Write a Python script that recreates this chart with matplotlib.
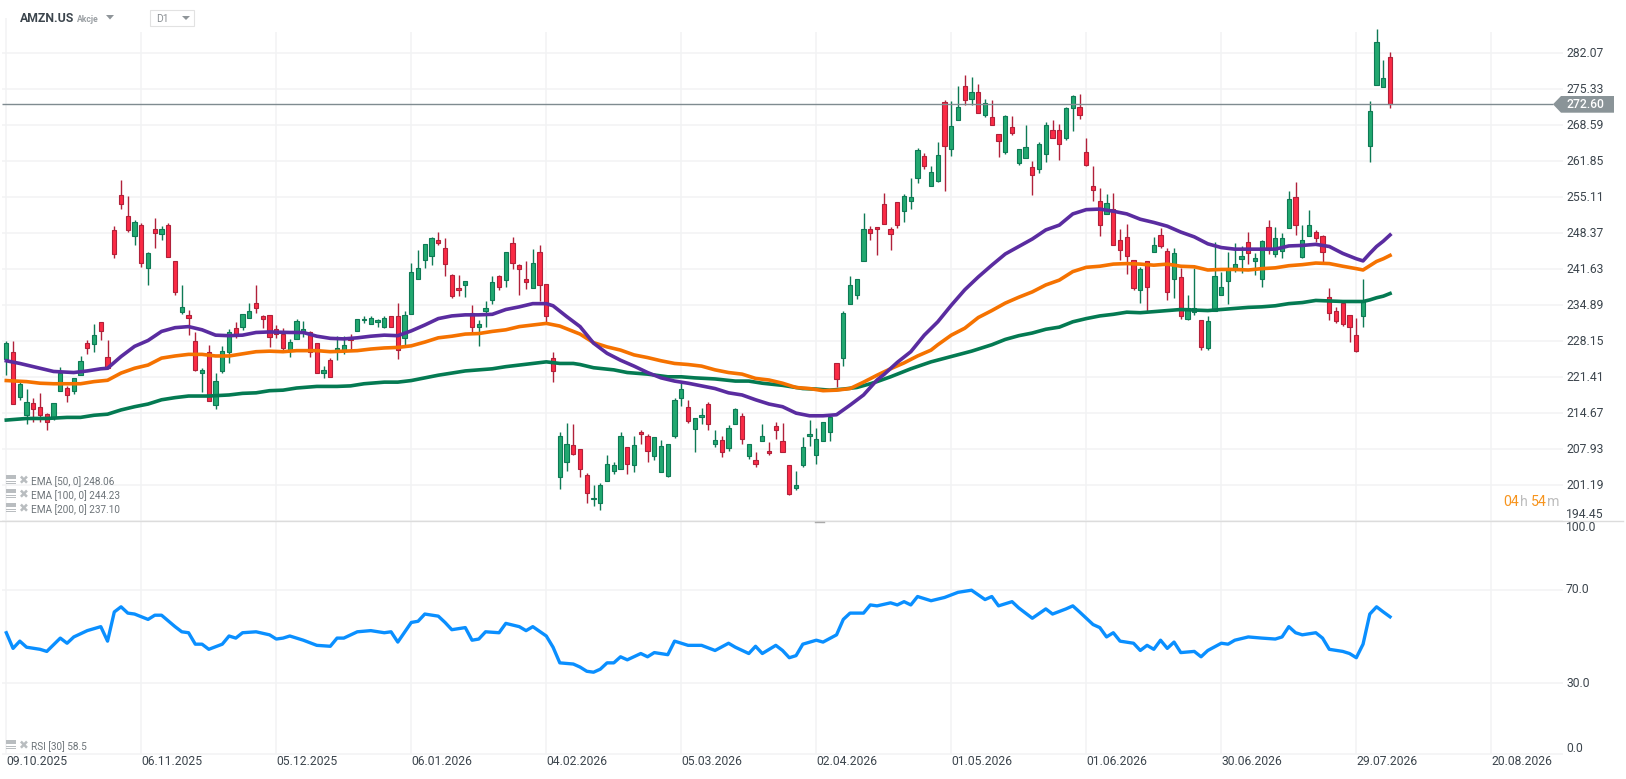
import numpy as np
import matplotlib
matplotlib.use('Agg')
import matplotlib.pyplot as plt
from matplotlib.patches import Polygon, Rectangle

plt.rcParams['font.family'] = ['Roboto', 'DejaVu Sans']

# swiece dzienne AMZN.US
opens = [224.9,226.1,217.7,214.3,216.6,215.8,214.5,213.7,218.8,219.4,
         218.8,221.8,227.8,227.6,231.7,225.3,248.9,255.5,251.6,247.8,
         249.9,241.8,249.1,248.2,249.9,243.1,233.6,233.0,228.2,222.3,
         226.1,216.2,222.5,226.1,230.6,230.9,232.5,235.4,232.8,233.0,
         230.4,229.5,226.6,228.5,229.8,229.8,227.8,222.3,224.6,226.3,
         226.6,228.5,230.0,232.1,231.3,231.7,230.9,232.8,232.8,228.7,
         233.2,239.9,243.3,244.2,247.2,245.7,240.5,238.1,238.6,233.4,
         230.8,233.8,235.8,240.3,239.6,246.5,242.4,239.8,238.1,244.8,
         238.8,225.0,202.7,205.5,208.7,207.9,203.2,198.6,197.8,201.9,
         203.8,204.2,208.3,204.9,211.1,210.5,206.6,203.6,202.9,210.4,
         217.5,215.8,211.7,213.9,216.5,209.0,209.6,208.1,212.6,214.1,
         206.6,205.9,209.4,207.7,212.2,209.4,204.9,200.6,204.9,210.4,
         206.8,209.4,211.1,224.0,225.0,235.1,236.9,243.1,249.1,249.5,
         253.8,249.1,254.2,252.5,254.5,258.7,262.8,257.2,258.1,272.9,
         264.1,269.5,275.9,273.6,274.9,270.5,270.1,266.9,263.5,268.2,
         261.5,262.4,260.7,260.5,263.2,267.7,267.7,266.2,271.8,272.1,
         263.5,257.2,254.5,251.9,252.9,247.2,247.6,243.3,237.7,243.1,
         244.8,248.0,245.0,239.8,240.1,232.3,233.6,232.1,226.8,233.9,
         236.9,239.4,241.6,243.5,246.7,243.1,239.8,249.5,244.4,245.0,
         249.3,255.1,244.0,247.8,248.7,247.8,236.4,233.8,235.4,233.0,
         229.3,232.8,264.8,276.1,275.7,281.3]
highs = [228.2,228.2,220.5,219.2,217.5,218.4,214.7,216.6,223.3,219.7,
         221.2,225.4,228.4,231.4,231.7,228.4,249.7,258.3,255.3,250.8,
         250.3,244.8,251.2,249.7,250.3,243.1,238.6,234.1,229.8,223.1,
         227.4,222.2,227.2,230.4,231.7,233.2,235.4,238.6,233.0,233.0,
         231.2,230.6,228.5,232.3,231.9,230.0,227.8,223.5,225.0,229.1,
         229.1,229.5,232.3,232.8,232.8,232.4,232.8,232.8,235.3,233.9,
         242.9,245.2,246.3,247.6,248.7,247.4,240.7,240.5,239.4,234.9,
         232.1,235.6,240.3,240.5,244.8,247.6,242.6,243.1,245.4,246.1,
         238.8,226.1,211.1,212.8,212.6,207.9,203.4,201.2,201.6,206.8,
         205.5,211.1,208.3,210.4,211.5,210.7,210.2,209.6,209.0,217.5,
         220.5,217.1,213.7,215.6,216.7,211.5,210.4,212.4,215.6,214.7,
         209.0,207.5,212.6,209.2,213.0,212.8,204.9,203.8,210.2,213.5,
         212.0,213.0,213.9,224.0,233.8,240.3,239.9,252.1,249.7,249.5,
         255.9,249.5,254.2,255.7,258.7,264.3,263.4,260.9,265.4,273.3,
         273.1,275.9,278.1,277.6,276.3,273.6,273.3,266.9,270.5,270.3,
         264.1,268.6,261.9,265.4,269.2,269.5,268.8,272.1,274.2,274.4,
         266.2,260.9,256.8,255.7,255.9,249.1,250.2,243.3,242.0,243.1,
         247.6,249.3,245.6,245.6,241.8,236.8,241.8,232.1,232.8,246.7,
         241.2,244.8,246.5,245.9,248.7,244.6,247.2,250.8,249.5,248.4,
         256.2,257.9,250.0,252.7,248.9,248.0,238.1,234.5,235.4,233.0,
         232.6,239.8,273.1,286.7,280.8,282.4]
lows = [221.8,216.4,217.2,212.7,213.0,213.0,211.6,213.4,218.8,216.7,
        218.2,221.8,225.7,226.2,228.3,222.9,243.8,253.0,248.7,246.2,
        242.1,238.6,245.7,247.2,243.9,236.9,233.2,229.4,222.5,218.6,
        216.9,215.4,222.3,224.0,228.8,230.3,232.5,233.5,230.7,227.0,
        228.7,226.5,225.3,228.5,228.9,225.3,222.2,221.2,221.4,224.6,
        225.7,226.6,230.0,231.5,231.3,230.9,230.6,230.8,224.8,227.5,
        233.2,239.9,241.8,242.4,246.1,240.3,236.3,236.7,236.5,229.6,
        227.2,230.9,235.1,237.7,238.3,241.6,236.8,237.9,238.1,235.6,
        231.7,220.5,200.4,203.8,206.8,202.7,197.8,197.4,196.5,201.9,
        203.3,204.2,203.3,203.6,209.0,205.5,205.9,203.6,202.7,210.0,
        216.0,212.8,207.4,212.6,211.5,208.3,206.4,207.7,212.6,209.0,
        206.2,204.6,209.4,206.8,209.8,207.4,199.3,200.3,204.6,208.5,
        205.1,209.4,209.4,219.5,223.6,235.1,236.0,243.1,247.1,244.3,
        250.2,245.3,249.3,250.4,253.0,257.7,260.5,257.2,257.9,256.2,
        262.8,269.5,272.3,272.3,270.8,270.1,268.6,262.6,263.2,266.7,
        261.1,262.4,255.5,259.6,261.7,266.3,262.0,265.8,267.5,269.7,
        260.9,254.5,247.8,251.9,246.1,243.4,240.7,237.7,235.4,233.9,
        244.8,245.6,235.8,236.2,232.3,232.1,233.0,226.6,226.6,233.9,
        236.9,235.1,241.2,240.9,242.7,240.5,238.3,244.4,244.0,243.7,
        249.3,248.0,243.7,247.8,246.7,242.6,232.1,231.5,231.1,228.1,
        226.2,230.9,261.8,276.1,275.7,271.9]
closes = [227.8,216.4,220.1,216.7,215.4,214.3,213.0,216.6,222.2,218.0,
          221.2,224.4,226.8,229.3,230.0,223.1,244.4,253.8,248.9,250.4,
          242.8,244.6,248.4,249.1,243.9,237.3,234.5,232.6,222.7,222.7,
          216.9,220.7,226.3,229.8,229.3,233.2,233.8,234.3,232.3,228.9,
          229.5,226.8,228.0,231.9,230.4,226.1,222.3,222.7,221.4,226.8,
          227.4,228.3,232.3,232.4,232.6,232.1,232.6,230.8,226.5,233.0,
          241.2,241.8,246.3,247.4,246.5,242.6,236.6,237.7,239.4,230.8,
          231.3,234.3,239.2,238.4,244.8,242.9,241.6,239.2,242.9,238.6,
          232.8,222.5,210.4,209.0,207.0,204.2,199.7,198.9,201.2,205.1,
          204.9,210.4,205.1,208.7,210.7,207.7,210.2,208.5,208.9,217.1,
          219.2,213.2,213.7,214.3,212.6,209.6,207.5,211.9,215.4,209.8,
          209.0,205.1,210.4,207.2,211.5,207.5,199.5,201.2,208.3,210.7,
          209.8,213.0,213.9,221.0,233.4,238.6,239.9,249.1,248.4,249.1,
          250.2,248.2,249.9,255.3,255.1,263.9,260.9,259.8,263.0,264.8,
          268.4,272.0,273.3,274.9,270.8,272.7,268.6,265.6,270.3,267.1,
          264.1,264.6,259.2,265.0,268.6,266.3,265.0,271.8,274.0,270.5,
          261.1,256.4,250.0,254.0,246.1,245.2,244.2,238.1,241.6,238.4,
          246.1,245.9,237.3,244.6,232.8,234.3,234.3,227.0,231.9,240.3,
          238.4,241.8,242.6,244.2,244.6,243.7,246.9,245.2,247.4,247.4,
          254.7,249.9,247.2,250.0,247.4,244.8,233.4,231.9,231.3,230.8,
          226.4,235.6,271.2,284.1,277.4,272.6]

# srednie EMA, odczytane co kilka sesji
ema50_idx = [0,2,5,7,10,12,14,15,17,19,21,23,25,27,29,31,33,35,37,39,42,44,46,48,50,52,54,56,58,60,
             62,64,66,68,70,72,74,76,78,80,81,83,85,87,89,91,93,95,97,99,101,103,105,107,109,111,113,
             115,117,119,121,123,125,127,129,130,132,134,136,138,140,142,144,146,148,150,152,154,156,
             158,160,162,164,166,168,170,172,174,176,178,180,182,184,186,188,190,192,194,196,198,200,
             201,202,203,204,205]
ema50 = [224.5,224.0,223.1,222.5,222.3,222.6,223.0,223.1,225.3,227.2,228.3,230.0,230.7,230.9,230.3,229.3,
         229.2,229.3,229.8,229.9,229.8,229.8,229.1,228.7,228.6,228.8,229.1,229.3,229.2,230.1,
         231.2,232.4,232.9,233.1,233.1,233.2,234.1,234.6,235.2,235.2,234.8,232.8,230.9,227.8,225.9,224.6,
         223.5,222.3,221.3,220.7,220.3,219.8,219.3,218.5,218.1,217.2,216.4,215.9,214.7,214.2,214.2,214.4,
         216.2,218.1,220.9,221.9,224.2,226.2,229.3,231.8,234.9,237.8,240.2,242.4,244.5,245.9,247.3,249.0,
         249.9,252.0,252.8,252.9,252.5,252.0,251.0,250.4,249.7,248.6,247.7,246.4,245.7,245.4,245.4,245.4,
         245.4,246.0,246.1,246.3,245.9,244.6,243.6,243.2,244.6,245.9,246.9,248.06]
ema100_idx = [0,3,5,7,11,13,15,17,19,21,23,25,27,29,31,33,35,37,39,41,43,46,48,50,52,54,56,58,60,62,64,66,
              68,70,72,74,76,78,80,82,84,85,87,89,91,93,95,97,99,101,103,105,107,109,111,113,115,117,119,
              121,123,125,127,129,131,133,135,137,138,140,142,144,146,148,150,152,154,156,158,160,162,
              164,166,168,170,172,174,176,178,180,182,184,186,188,190,192,194,196,198,200,201,202,203,
              204,205]
ema100 = [220.8,220.6,220.3,220.2,220.2,220.6,220.85,222.2,223.1,223.7,225.0,225.4,225.7,225.7,225.4,225.4,
          225.8,226.2,226.3,226.2,226.4,226.4,226.2,226.3,226.4,226.7,226.9,227.0,227.3,228.0,228.8,229.1,
          229.5,229.6,230.0,230.3,230.9,231.2,231.5,231.0,230.0,229.5,227.9,227.1,226.5,225.6,225.1,224.5,
          224.0,223.8,223.5,222.8,222.3,222.0,221.2,220.9,220.3,219.5,219.3,218.9,219.0,219.3,220.5,221.8,
          223.0,224.1,225.4,226.5,227.5,229.3,230.6,232.6,233.9,235.3,236.4,237.4,238.7,239.6,241.2,242.0,
          242.2,242.6,242.7,242.6,242.4,242.6,242.2,242.1,241.5,241.6,241.6,241.5,241.75,241.9,242.3,242.5,
          242.8,242.7,242.2,241.75,241.5,242.3,243.1,243.6,244.23]
ema200_idx = [0,3,6,9,11,13,15,17,19,21,23,25,27,30,33,35,37,39,41,43,46,49,51,53,56,58,60,62,64,66,68,70,
              72,74,76,78,80,82,84,85,87,90,92,95,98,100,102,105,108,110,112,115,118,120,122,124,126,128,
              129,131,134,137,140,143,146,148,150,152,154,156,158,160,162,164,166,168,170,172,174,176,
              178,180,182,184,186,188,190,192,194,196,198,200,201,202,203,204,205]
ema200 = [213.4,213.7,213.7,213.9,213.9,214.3,214.5,215.3,215.9,216.4,217.2,217.6,217.9,217.9,218.1,218.4,
          218.5,218.9,219.0,219.4,219.7,219.7,219.8,220.2,220.5,220.5,220.8,221.3,221.8,222.2,222.6,222.8,
          223.0,223.4,223.7,224.0,224.3,224.0,224.0,223.8,223.2,222.8,222.3,222.0,221.5,221.5,221.3,221.1,
          220.7,220.7,220.3,219.9,219.3,219.2,219.0,219.2,219.5,220.2,220.6,221.5,223.0,224.3,225.3,226.3,
          227.5,228.5,229.2,229.7,230.4,230.8,231.8,232.4,232.9,233.2,233.6,233.5,233.7,233.9,234.1,234.0,
          233.9,234.1,234.3,234.5,234.6,234.8,235.2,235.4,235.8,235.7,235.6,235.6,235.6,235.9,236.3,236.6,
          237.10]

# RSI [30]
rsi_idx = [0,1,2,3,5,6,8,9,10,12,14,15,16,17,18,19,21,22,23,25,26,27,28,29,30,32,33,34,35,37,39,40,41,42,44,
           46,48,49,50,52,54,56,57,58,60,61,62,64,65,66,68,69,70,71,73,74,76,77,78,80,81,82,84,85,86,87,88,
           89,90,91,92,94,95,96,98,99,101,103,105,107,108,110,111,112,114,115,116,117,118,120,121,123,124,
           125,127,128,129,131,132,133,134,135,137,139,141,143,145,146,147,149,150,152,154,155,157,158,159,
           161,162,163,164,165,167,168,169,170,171,172,173,174,176,177,178,180,181,182,184,186,188,189,190,
           191,192,194,195,196,198,199,200,201,202,203,204,205]
rsi = [51.7,45.0,48.1,45.5,44.6,43.7,49.4,47.2,49.9,52.6,54.3,48.1,60.6,62.8,60.1,59.7,57.4,59.2,59.2,54.3,
       52.1,51.7,46.8,46.8,44.6,46.8,50.3,49.4,51.7,52.1,50.8,49.0,49.4,50.3,48.5,46.3,45.9,49.4,49.4,52.1,
       52.6,51.7,52.1,47.7,56.1,56.6,59.7,58.8,56.1,53.0,53.9,48.5,49.0,52.1,51.7,55.7,54.3,52.6,54.3,50.3,
       45.5,38.8,38.3,37.0,35.2,34.8,36.1,38.8,38.8,41.4,40.1,42.8,41.4,43.2,42.3,48.1,46.3,46.3,44.1,47.2,
       45.5,42.8,45.9,42.8,46.3,44.1,41.0,41.9,46.8,48.5,47.7,50.8,57.4,60.1,60.1,63.6,63.2,64.5,63.6,65.0,
       63.6,67.2,65.4,66.8,69.0,69.9,65.9,67.2,63.2,65.0,62.3,57.9,61.9,59.7,61.9,63.2,60.6,55.2,53.9,49.9,
       51.7,48.1,47.2,44.1,46.3,44.6,48.5,45.0,47.7,43.2,43.7,41.4,44.1,47.2,46.8,48.5,49.9,49.4,49.0,49.9,
       54.3,51.7,50.8,51.7,49.4,44.6,43.7,42.8,41.0,46.8,59.7,62.8,60.6,58.5]

price_ticks = [282.07,275.33,268.59,261.85,255.11,248.37,241.63,234.89,228.15,221.41,214.67,207.93,201.19,194.45]
last_price = 272.60
rsi_ticks = [100.0, 70.0, 30.0, 0.0]
date_pos = [0,20,40,60,80,100,120,140,160,180,200,220]
date_labels = ['09.10.2025','06.11.2025','05.12.2025','06.01.2026','04.02.2026','05.03.2026',
               '02.04.2026','01.05.2026','01.06.2026','30.06.2026','29.07.2026','20.08.2026']
legend_labels = ['EMA [50, 0] 248.06','EMA [100, 0] 244.23','EMA [200, 0] 237.10']

W, H = 1626, 779
PANE = 521
fig = plt.figure(figsize=(W/100, H/100), dpi=100, facecolor='white')
ax = fig.add_axes([0, 1-PANE/H, 1, PANE/H])
ax2 = fig.add_axes([0, 0, 1, 1-PANE/H])
# 6.75 px na sesje, sesja 0 na x=6.3
xlim = (-6.3/6.75, (W-6.3)/6.75)
ax.set_xlim(xlim); ax2.set_xlim(xlim)
ax.set_ylim(282.07-(PANE-53.3)/5.341, 282.07+53.3/5.341)
ax2.set_ylim((753.5-H)/2.336, (753.5-PANE)/2.336)
ax.axis('off'); ax2.axis('off')
GRID = '#f2f3f4'
GRID_START = (2-6.3)/6.75
GRID_END = (1563-6.3)/6.75
TXT = '#3c454d'

def fx(x):
    return x/W
def fy(y):
    return 1-y/H

# siatka
ax.hlines(price_ticks, GRID_START, GRID_END, color=GRID, lw=1.1, zorder=0)
ax.vlines(date_pos[1:], ax.get_ylim()[0], 282.07+21/5.341, color=GRID, lw=1.1, zorder=0)
ax.vlines(date_pos[0], ax.get_ylim()[0], 282.07+35/5.341, color=GRID, lw=1.1, zorder=0)
ax2.vlines(date_pos, 0, ax2.get_ylim()[1], color=GRID, lw=1.1, zorder=0)
ax2.hlines([70, 30, 0], GRID_START, GRID_END, color=GRID, lw=1.1, zorder=0)

# swiece
idx = np.arange(len(opens))
o, h, l, c = map(np.array, (opens, highs, lows, closes))
up = c >= o
ax.vlines(idx[up], l[up], h[up], color='#0e7a55', lw=1.0, zorder=2)
ax.vlines(idx[~up], l[~up], h[~up], color='#b0213a', lw=1.0, zorder=2)
ax.bar(idx[up], (c-o)[up], bottom=o[up], width=0.62, color='#22a870', edgecolor='#0e7a55', lw=0.8, zorder=3)
ax.bar(idx[~up], (o-c)[~up], bottom=c[~up], width=0.62, color='#fb2b45', edgecolor='#b0213a', lw=0.8, zorder=3)

# linia ostatniej ceny
ax.hlines(last_price, GRID_START, (1553-6.3)/6.75, color='#7f8b90', lw=1.0, zorder=4)

# EMA
ax.plot(ema200_idx, ema200, color='#047a52', lw=2.6, zorder=5, solid_joinstyle='round')
ax.plot(ema100_idx, ema100, color='#f57200', lw=2.6, zorder=6, solid_joinstyle='round')
ax.plot(ema50_idx, ema50, color='#5a2ca0', lw=2.6, zorder=7, solid_joinstyle='round')

# RSI
ax2.plot(rsi_idx, rsi, color='#0a8fff', lw=2.4, solid_joinstyle='round')

# opisy osi
for p in price_ticks:
    y = 53.3+(282.07-p)*5.341
    if p == 194.45:
        y = 515
    fig.text(fx(1566), fy(y), f'{p:.2f}', fontsize=8.7, color=TXT, va='center', ha='left')
for v in rsi_ticks:
    y = 753.5-v*2.336
    if v == 100.0:
        y = 527.5
    if v == 0.0:
        y = 748
    fig.text(fx(1566), fy(y), f'{v:.1f}', fontsize=8.7, color=TXT, va='center', ha='left')
for pos, lab in zip(date_pos, date_labels):
    fig.text(fx(6.3+6.75*pos), fy(761.5), lab, fontsize=8.7, color=TXT, va='center', ha='left')

# znacznik ceny
tag = [(1553, 104.3), (1561, 96), (1614, 96), (1614, 112.7), (1561, 112.7)]
fig.patches.append(Polygon([(fx(x), fy(y)) for x, y in tag], closed=True, transform=fig.transFigure,
                           facecolor='#8a9498', edgecolor='none'))
fig.text(fx(1566), fy(104.6), f'{last_price:.2f}', fontsize=8.7, color='white', va='center', ha='left', fontweight='medium')

# naglowek
fig.text(fx(20), fy(18.6), 'AMZN.US', fontsize=8.8, color=TXT, fontweight='bold', va='center')
fig.text(fx(77), fy(19), 'Akcje', fontsize=6.2, color='#9a9fa3', fontweight='bold', va='center')
fig.patches.append(Polygon([(fx(106), fy(15)), (fx(114), fy(15)), (fx(110), fy(19.5))], closed=True,
                           transform=fig.transFigure, facecolor='#8f9599', edgecolor='none'))
fig.patches.append(Rectangle((fx(150), fy(25.5)), 43.5/W, 15/H, transform=fig.transFigure,
                             facecolor='white', edgecolor='#e2e2e2', lw=0.8))
fig.text(fx(156), fy(18.5), 'D1', fontsize=7.4, color='#8a8f93', va='center')
fig.patches.append(Polygon([(fx(182), fy(16)), (fx(190), fy(16)), (fx(186), fy(20))], closed=True,
                           transform=fig.transFigure, facecolor='#8f9599', edgecolor='none'))

# legenda wskaznikow
def legend_row(y, label):
    fig.patches.append(Rectangle((fx(6), fy(y-2)), 10/W, 4/H, transform=fig.transFigure, facecolor='#b9bdc0', edgecolor='none'))
    fig.patches.append(Rectangle((fx(6), fy(y+1)), 10/W, 1.2/H, transform=fig.transFigure, facecolor='#b9bdc0', edgecolor='none'))
    fig.patches.append(Rectangle((fx(6), fy(y+3.2)), 10/W, 1.2/H, transform=fig.transFigure, facecolor='#b9bdc0', edgecolor='none'))
    fig.text(fx(23.5), fy(y-0.5), '\u2716', fontsize=8.5, color='#b9bdc0', ha='center', va='center', family='DejaVu Sans')
    fig.text(fx(31), fy(y+1), label, fontsize=7.2, color='#6d7479', va='center')

for y, lab in zip([481, 495, 509], legend_labels):
    legend_row(y, lab)
legend_row(746, 'RSI [30] 58.5')

# licznik do zamkniecia
for x, s, col in [(1503, '04', '#f7941d'), (1519.5, 'h', '#bdbdbd'), (1530.5, '54', '#f7941d'), (1546.7, 'm', '#bdbdbd')]:
    fig.text(fx(x), fy(501.5), s, fontsize=10.2, color=col, va='center', ha='left')

# separator paneli
fig.add_artist(plt.Line2D([fx(0), fx(1623)], [fy(521), fy(521)], color='#dcdcdc', lw=1.0))
fig.add_artist(plt.Line2D([fx(815), fx(824)], [fy(522), fy(522)], color='#aaaaaa', lw=1.0))

fig.savefig('out.png', dpi=100, facecolor='white')
